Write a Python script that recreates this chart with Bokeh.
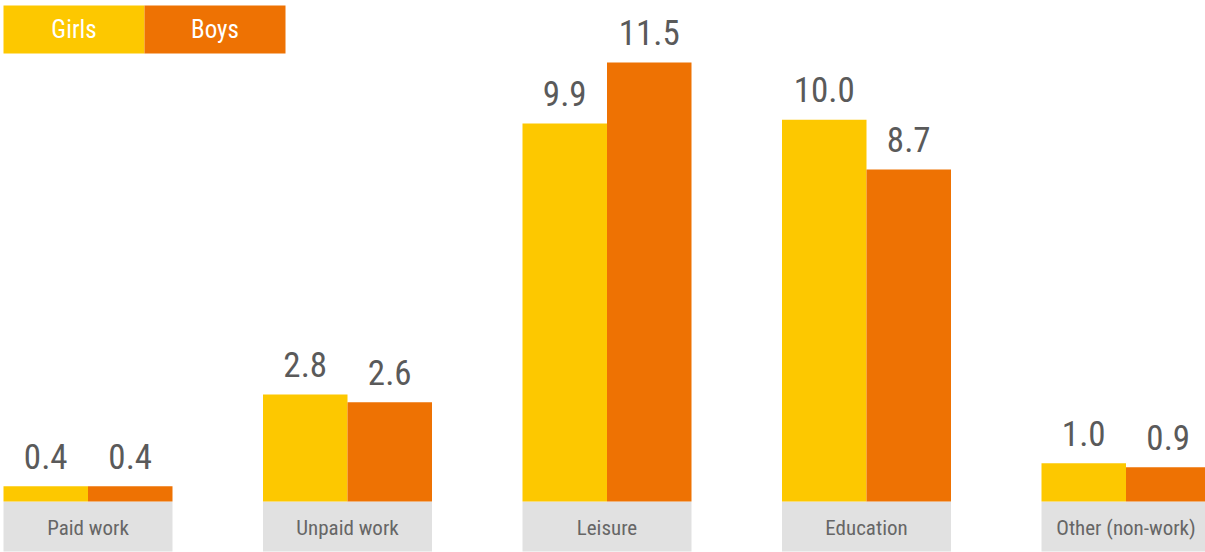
from bokeh.plotting import figure
from bokeh.models import Range1d, ColumnDataSource
from bokeh.core.properties import value
from bokeh.embed import file_html
from bokeh.resources import INLINE

categories = ["Paid work", "Unpaid work", "Leisure", "Education", "Other (non-work)"]
girls = [0.4, 2.8, 9.9, 10.0, 1.0]
boys = [0.4, 2.6, 11.5, 8.7, 0.9]
series_names = ["Girls", "Boys"]

GIRL_C = "#FDC800"
BOY_C = "#EE7203"
GREY = "#E1E1E1"
VAL_C = "#5A5A5A"
CAT_C = "#666666"
FONT = "'Roboto Condensed', 'Liberation Sans Narrow', Roboto, sans-serif"

W, H = 1205, 552
PX_X = 259.5
bw = 84.5 / PX_X
x0 = -87.5 / PX_X
x1 = x0 + W / PX_X
PX_Y = 38.17
base_py = 501
y1 = base_py / PX_Y
y0 = -(H - base_py) / PX_Y

def dx(px):
    return x0 + px / PX_X

def dy(py):
    return y1 - py / PX_Y

p = figure(width=W, height=H, output_backend="svg", toolbar_location=None,
           x_range=Range1d(x0, x1), y_range=Range1d(y0, y1),
           min_border=0, outline_line_color=None)
p.axis.visible = False
p.grid.visible = False
p.background_fill_color = "white"
p.border_fill_color = "white"

gap = 30 / PX_Y
xs = list(range(len(categories)))
src = ColumnDataSource(dict(
    x=xs, cat=categories, girls=girls, boys=boys,
    gx=[x - bw / 2 for x in xs], bx=[x + bw / 2 for x in xs],
    gy=[v + gap for v in girls], by=[v + gap for v in boys],
    gl=[f"{v:.1f}" for v in girls], bl=[f"{v:.1f}" for v in boys],
))

# grey category boxes
p.quad(left=[x - bw for x in xs], right=[x + bw for x in xs],
       bottom=dy(551), top=0, fill_color=GREY, line_color=None)

p.vbar(x="gx", top="girls", bottom=0, width=bw, source=src,
       fill_color=GIRL_C, line_color=None)
p.vbar(x="bx", top="boys", bottom=0, width=bw, source=src,
       fill_color=BOY_C, line_color=None)

p.text(x="gx", y="gy", text="gl", source=src, text_align="center",
       text_baseline="alphabetic", text_color=VAL_C,
       text_font=value(FONT), text_font_size="35px")
p.text(x="bx", y="by", text="bl", source=src, text_align="center",
       text_baseline="alphabetic", text_color=VAL_C,
       text_font=value(FONT), text_font_size="35px")

p.text(x="x", y=dy(527), text="cat", source=src, text_align="center",
       text_baseline="middle", text_color=CAT_C,
       text_font=value(FONT), text_font_size="21px")

# legend boxes
leg_colors = [GIRL_C, BOY_C]
for i, name in enumerate(series_names):
    l, r = dx(3 + 141 * i), dx(3 + 141 * (i + 1))
    p.quad(left=[l], right=[r], bottom=[dy(53)], top=[dy(5)],
           fill_color=leg_colors[i], line_color=None)
    p.text(x=[(l + r) / 2], y=[dy(29)], text=[name], text_align="center",
           text_baseline="middle", text_color="white",
           text_font=value(FONT), text_font_size="25px")

open("out.html", "w").write(file_html(p, INLINE))
